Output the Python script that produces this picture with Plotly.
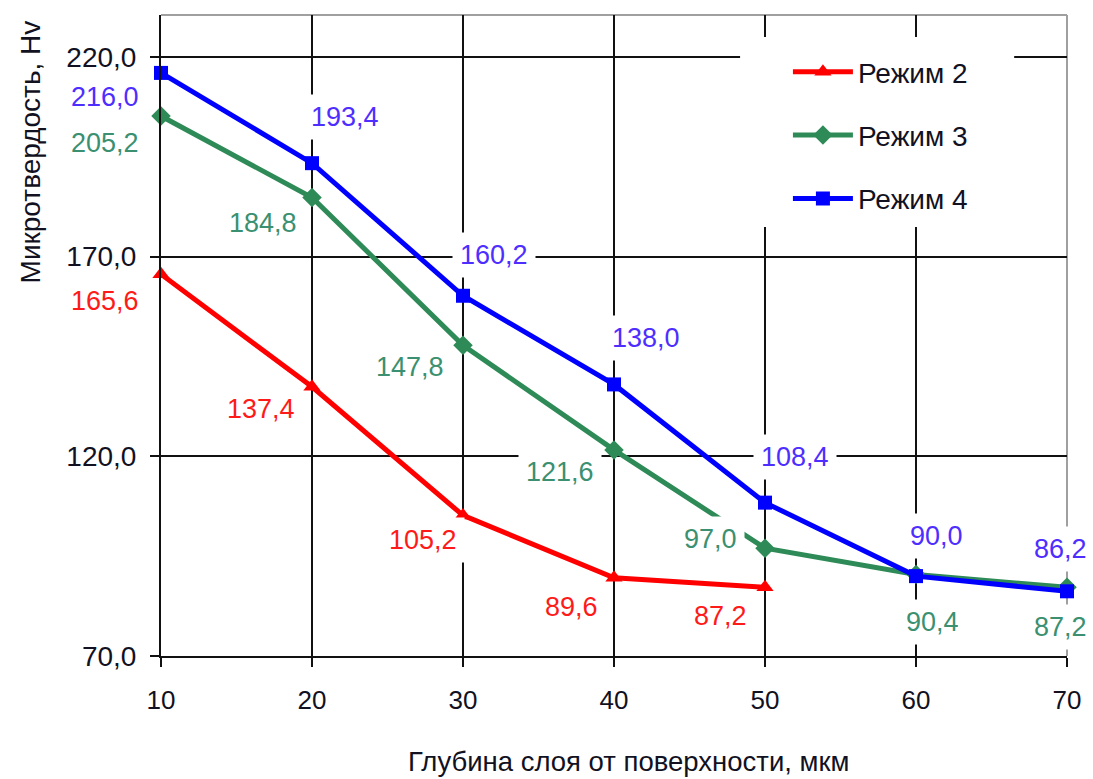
import plotly.graph_objects as go

depth = [10, 20, 30, 40, 50, 60, 70]
mode2 = [165.6, 137.4, 105.2, 89.6, 87.2]
mode3 = [205.2, 184.8, 147.8, 121.6, 97.0, 90.4, 87.2]
mode4 = [216.0, 193.4, 160.2, 138.0, 108.4, 90.0, 86.2]
names = ["Режим 2", "Режим 3", "Режим 4"]
y_ticks = [70, 120, 170, 220]
y_tick_text = ["70,0", "120,0", "170,0", "220,0"]

# label pixel offsets (style): (dx, dy-down)
off2 = [(-56, 27), (-51, 22), (-40, 25), (-43, 29), (-45, 29)]
off3 = [(-56, 27), (-49, 25), (-53, 22), (-54, 22), (-55, -9), (16, 47), (-7, 40)]
off4 = [(-56, 24), (33, -46), (31, -41), (32, -46), (30, -46), (20, -40), (-7, -42)]

FONT = "Liberation Sans, Arial, sans-serif"
TXT = "#111122"
series = [
    (names[0], mode2, off2, "#ff0000", "#ff1a1a", "triangle-up", 15),
    (names[1], mode3, off3, "#2e8b57", "#3a9070", "diamond", 15),
    (names[2], mode4, off4, "#0000ff", "#4d2eff", "square", 14),
]

fig = go.Figure()
annotations = []
for name, vals, offs, col, lcol, sym, msize in series:
    xs = depth[:len(vals)]
    fig.add_trace(go.Scatter(
        x=xs, y=vals, name=name, mode="lines+markers", legendgroup=name,
        line=dict(color=col, width=5),
        marker=dict(symbol=sym, size=msize, color=col),
        cliponaxis=False,
    ))
    for xv, yv, (dx, dy) in zip(xs, vals, offs):
        annotations.append(dict(
            x=xv, y=yv, xref="x", yref="y", showarrow=False,
            text=f"{yv:.1f}".replace(".", ","),
            xshift=dx, yshift=-dy,
            font=dict(family=FONT, size=27, color=lcol),
            bgcolor="white", borderpad=7,
        ))

annotations.append(dict(
    text="Микротвердость, Hv", textangle=-90, showarrow=False,
    xref="paper", yref="paper", x=(30 - 161) / 909, y=(656 - 152) / 641,
    xanchor="center", yanchor="middle",
    font=dict(family=FONT, size=28, color=TXT),
))
annotations.append(dict(
    text="Глубина слоя от поверхности, мкм", showarrow=False,
    xref="paper", yref="paper", x=(630 - 161) / 909, y=(656 - 762) / 641,
    xanchor="center", yanchor="middle",
    font=dict(family=FONT, size=27.5, color=TXT),
))

fig.update_layout(
    width=1093, height=779,
    margin=dict(l=161, r=23, t=15, b=123),
    paper_bgcolor="white", plot_bgcolor="white",
    font=dict(family=FONT, size=26, color=TXT),
    showlegend=True,
    legend=dict(
        x=(790 - 161) / 909, y=(656 - 47) / 641, xanchor="left", yanchor="top",
        bgcolor="white", borderwidth=0, tracegroupgap=24, itemwidth=60,
        font=dict(family=FONT, size=28, color=TXT),
    ),
    annotations=annotations,
    shapes=[
        dict(type="line", xref="paper", yref="paper", x0=0, x1=1, y0=1, y1=1,
             line=dict(color="#a0a0a0", width=2), layer="below"),
        dict(type="line", xref="paper", yref="paper", x0=1, x1=1, y0=0, y1=1,
             line=dict(color="#a0a0a0", width=2), layer="below"),
        # white backdrop behind the legend
        dict(type="rect", xref="paper", yref="paper",
             x0=(742 - 161) / 909, x1=(1017 - 161) / 909,
             y0=(656 - 227) / 641, y1=(656 - 37) / 641,
             fillcolor="white", line=dict(width=0), layer="above"),
    ],
)
fig.update_xaxes(
    range=[10, 70], tickvals=depth, ticktext=[str(d) for d in depth],
    tickfont=dict(family=FONT, size=26, color=TXT),
    showgrid=True, gridcolor="#111111", gridwidth=2,
    showline=True, linecolor="#111111", linewidth=2,
    ticks="outside", ticklen=9, tickwidth=2, tickcolor="#111111",
    zeroline=False, ticklabelstandoff=11,
)
fig.update_yaxes(
    range=[70, 230.5], tickvals=y_ticks, ticktext=y_tick_text,
    tickfont=dict(family=FONT, size=28, color=TXT),
    showgrid=True, gridcolor="#111111", gridwidth=2,
    showline=True, linecolor="#111111", linewidth=2,
    ticks="outside", ticklen=9, tickwidth=2, tickcolor="#111111",
    zeroline=False, ticklabelstandoff=8,
)

fig.write_html("out.html")
